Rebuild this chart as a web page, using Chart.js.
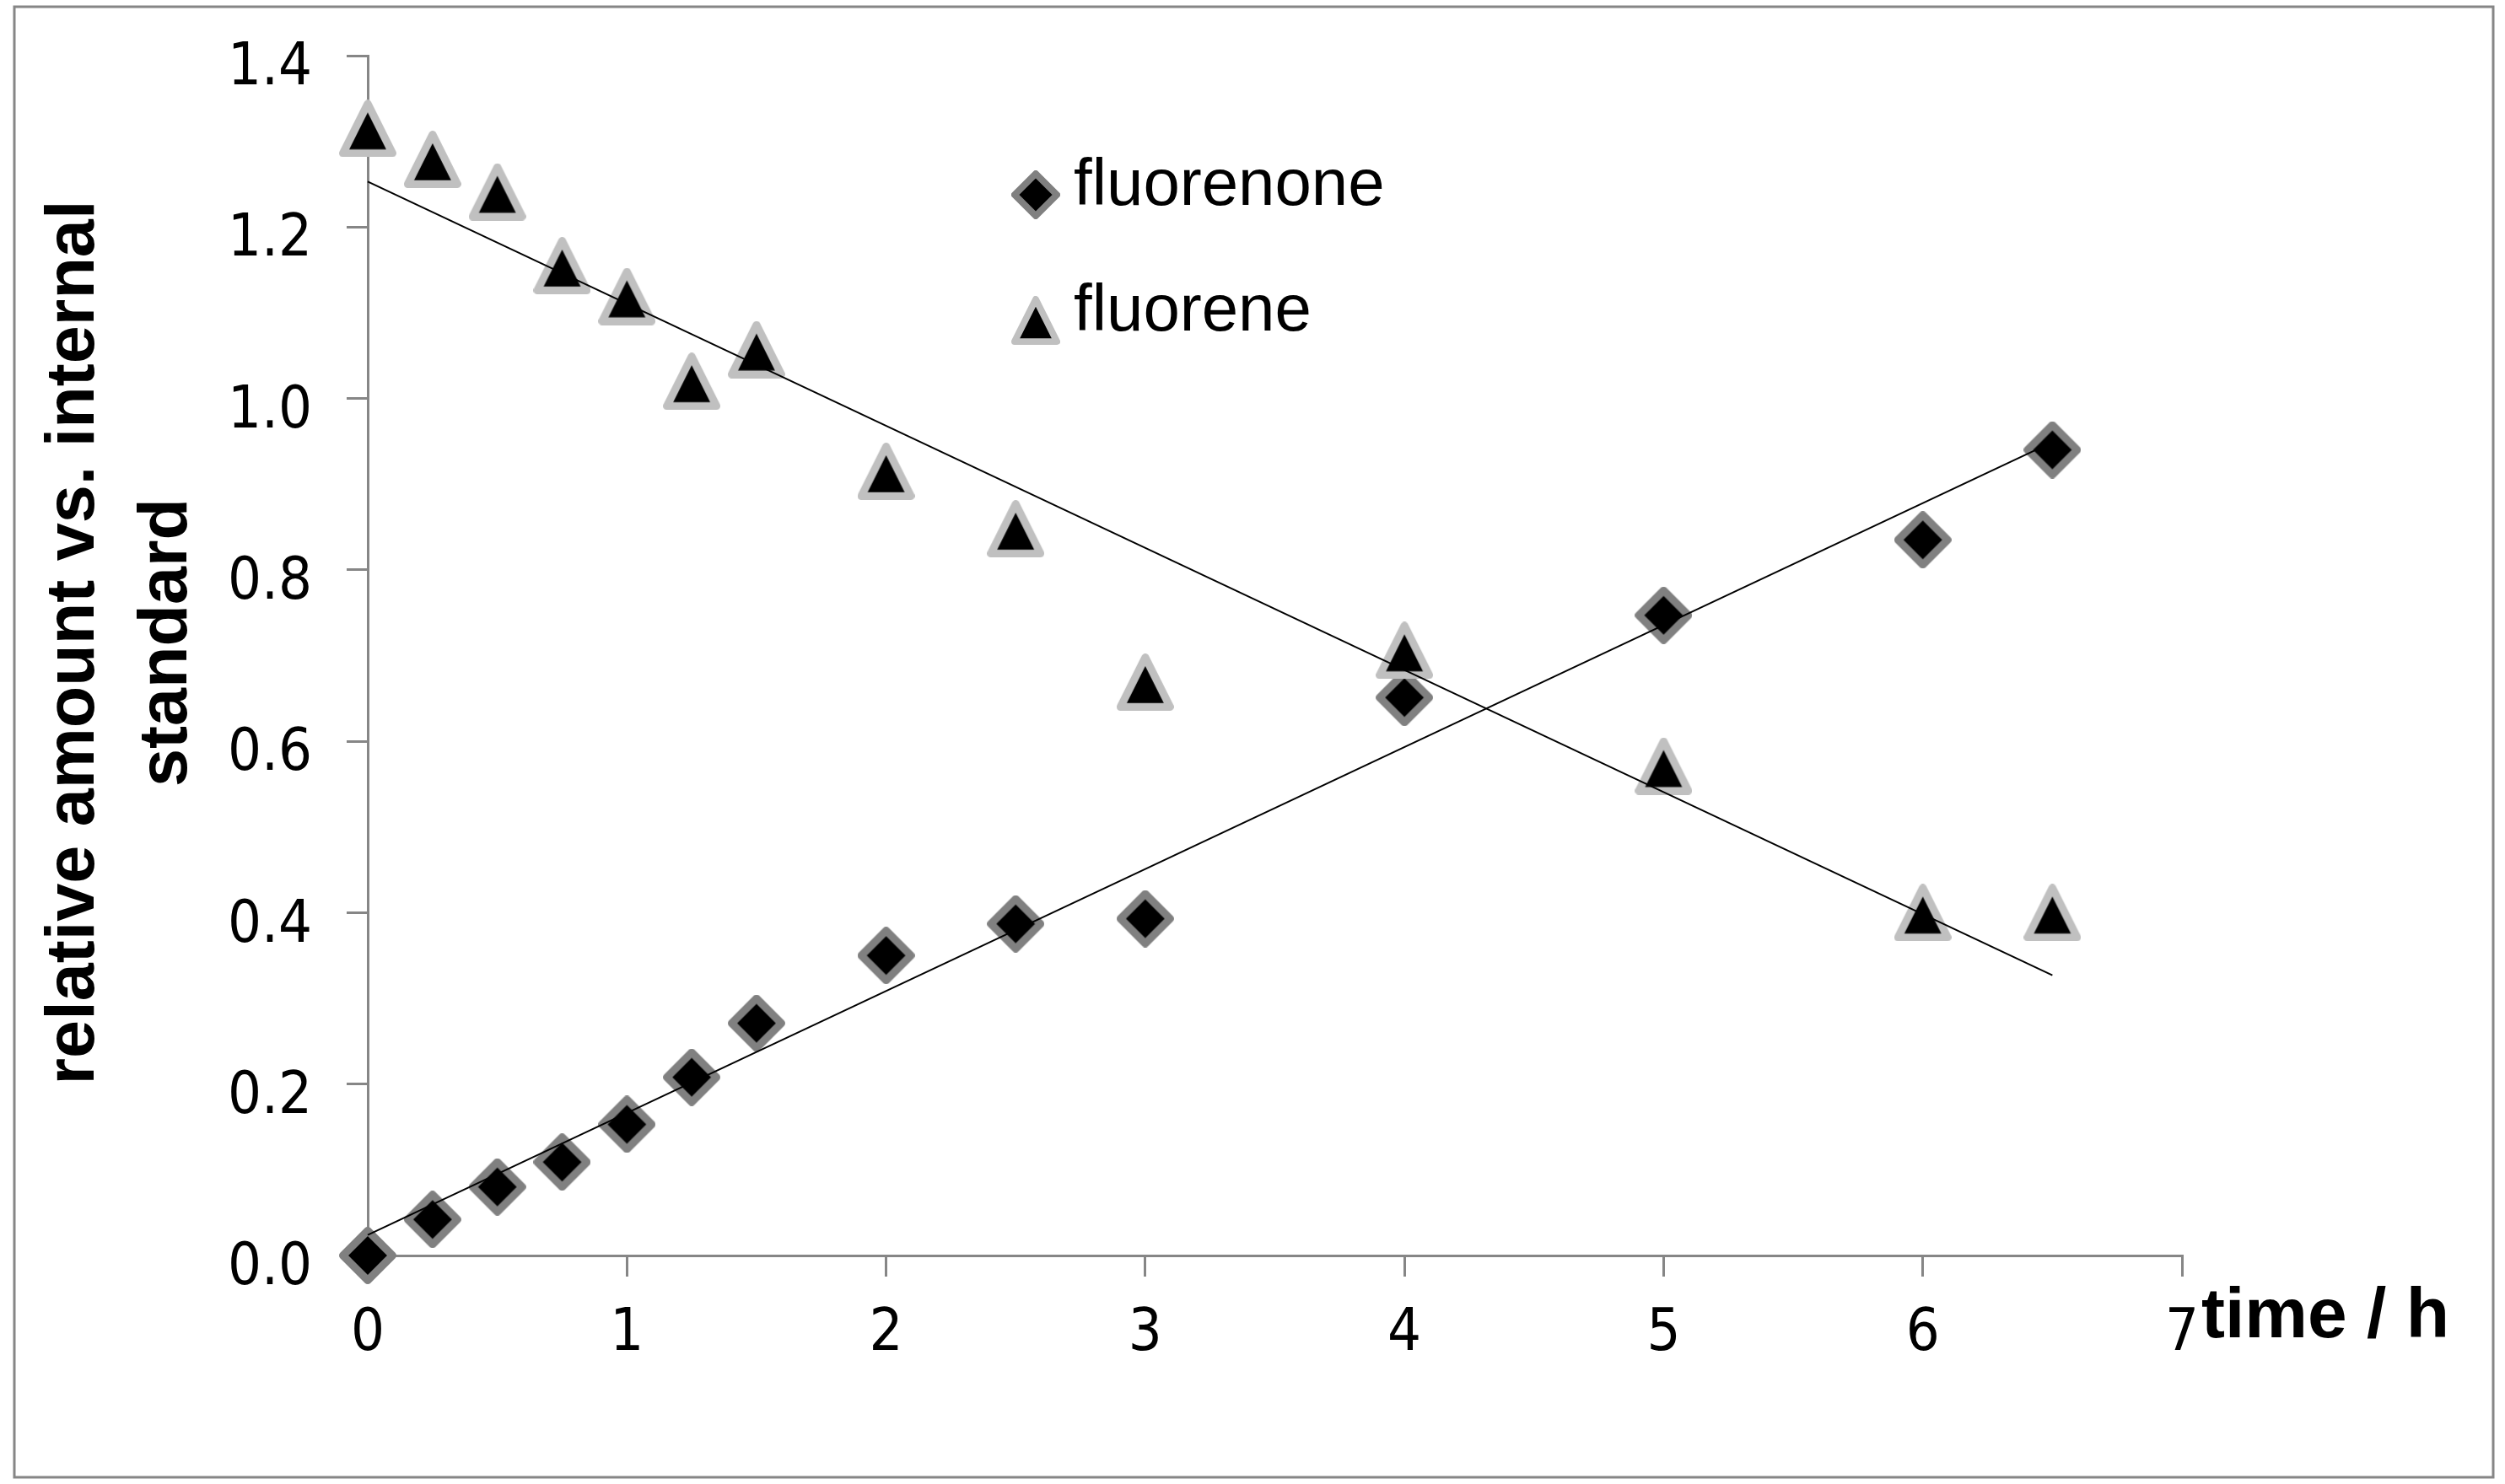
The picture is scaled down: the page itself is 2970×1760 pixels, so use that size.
<!DOCTYPE html>
<html>
<head>
<meta charset="utf-8">
<title>fluorenone / fluorene vs. time</title>
<script src="https://cdn.jsdelivr.net/npm/chart.js@4.4.0/dist/chart.umd.min.js"></script>
<style>
  html, body { margin: 0; padding: 0; background: #ffffff; }
  canvas { display: block; }
</style>
</head>
<body>
<canvas id="kineticsChart" width="2970" height="1760"></canvas>
<script>
// Sampling times (h)
const timePoints = [0, 0.25, 0.5, 0.75, 1, 1.25, 1.5, 2, 2.5, 3, 4, 5, 6, 6.5];

// Relative amount vs. internal standard
const fluorenoneValues = [0.000, 0.042, 0.080, 0.109, 0.153, 0.208, 0.271, 0.350, 0.387, 0.393, 0.651, 0.747, 0.835, 0.940];
const fluoreneValues = [1.315, 1.279, 1.241, 1.155, 1.119, 1.020, 1.057, 0.915, 0.848, 0.669, 0.706, 0.571, 0.400, 0.400];

// Linear trend lines (end points as drawn)
const trendTimes = [0, 6.5];
const fluorenoneTrend = [0.024, 0.949];
const fluoreneTrend = [1.253, 0.327];

// Axis ticks
const xTickValues = [0, 1, 2, 3, 4, 5, 6, 7];
const yTickValues = [0, 0.2, 0.4, 0.6, 0.8, 1.0, 1.2, 1.4];
const yTickLabels = ['0.0', '0.2', '0.4', '0.6', '0.8', '1.0', '1.2', '1.4'];

const seriesNames = ['fluorenone', 'fluorene'];
const yTitleLines = ['relative amount vs. internal', 'standard'];
const xTitleText = 'time / h';

const AXIS_GREY = '#868686';
const TICK_FONT = '"DejaVu Sans Condensed", "DejaVu Sans", sans-serif';

// Excel style markers: black fill, grey outline
function makeMarker(shape, size, stroke) {
    const c = document.createElement('canvas');
    c.width = size;
    c.height = size;
    const ctx = c.getContext('2d');
    const w = size * 0.135;
    const h = w / 2;
    ctx.beginPath();
    if (shape === 'diamond') {
        ctx.moveTo(size / 2, h);
        ctx.lineTo(size - h, size / 2);
        ctx.lineTo(size / 2, size - h);
        ctx.lineTo(h, size / 2);
    } else {
        ctx.moveTo(size / 2, h);
        ctx.lineTo(size - h, size - h);
        ctx.lineTo(h, size - h);
    }
    ctx.closePath();
    ctx.fillStyle = '#000000';
    ctx.fill();
    ctx.lineWidth = w;
    ctx.lineJoin = 'round';
    ctx.strokeStyle = stroke;
    ctx.stroke();
    return c;
}

const diamondMarker = makeMarker('diamond', 68, '#808080');
const triangleMarker = makeMarker('triangle', 68, '#c0c0c0');
const diamondLegend = makeMarker('diamond', 58, '#808080');
const triangleLegend = makeMarker('triangle', 58, '#c0c0c0');

function toPoints(xs, ys) {
    return xs.map((x, i) => ({ x: x, y: ys[i] }));
}

// grey frame round the whole picture
const framePlugin = {
    id: 'pageFrame',
    afterDraw(chart) {
        const ctx = chart.ctx;
        ctx.save();
        ctx.strokeStyle = AXIS_GREY;
        ctx.lineWidth = 3;
        ctx.strokeRect(17, 8, 2939, 1744);
        ctx.restore();
    }
};

// legend sitting inside the plot, as in the original
const insideLegend = {
    id: 'insideLegend',
    afterDraw(chart) {
        const ctx = chart.ctx;
        const rows = [
            { img: diamondLegend, text: seriesNames[0], my: 231, by: 243 },
            { img: triangleLegend, text: seriesNames[1], my: 380, by: 392 }
        ];
        ctx.save();
        ctx.font = '78px "Liberation Sans", Arial, sans-serif';
        ctx.fillStyle = '#000000';
        ctx.textAlign = 'left';
        ctx.textBaseline = 'alphabetic';
        rows.forEach(r => {
            ctx.drawImage(r.img, 1228 - r.img.width / 2, r.my - r.img.height / 2);
            ctx.fillText(r.text, 1273, r.by);
        });
        ctx.restore();
    }
};

// axis titles: y title rotated in two lines, x title at the right end of the axis
const axisTitles = {
    id: 'axisTitles',
    afterDraw(chart) {
        const ctx = chart.ctx;
        ctx.save();
        ctx.fillStyle = '#000000';

        ctx.font = 'bold 84px "Liberation Sans", Arial, sans-serif';
        ctx.textAlign = 'left';
        ctx.textBaseline = 'alphabetic';
        ctx.fillText(xTitleText, 2610, 1586);

        ctx.font = 'bold 81px "Liberation Sans", Arial, sans-serif';
        ctx.textAlign = 'center';
        ctx.textBaseline = 'middle';
        ctx.translate(89, 762);
        ctx.rotate(-Math.PI / 2);
        yTitleLines.forEach((line, i) => {
            ctx.fillText(line, 0, i * 110);
        });
        ctx.restore();
    }
};

const chart = new Chart(document.getElementById('kineticsChart'), {
    type: 'scatter',
    data: {
        datasets: [{
            type: 'line',
            label: 'trend fluorenone',
            data: toPoints(trendTimes, fluorenoneTrend),
            borderColor: '#000000',
            borderWidth: 2,
            pointRadius: 0,
            fill: false,
            clip: false,
            order: 0
        }, {
            type: 'line',
            label: 'trend fluorene',
            data: toPoints(trendTimes, fluoreneTrend),
            borderColor: '#000000',
            borderWidth: 2,
            pointRadius: 0,
            fill: false,
            clip: false,
            order: 0
        }, {
            label: seriesNames[1],
            data: toPoints(timePoints, fluoreneValues),
            pointStyle: triangleMarker,
            pointRadius: 34,
            clip: false,
            order: 1
        }, {
            label: seriesNames[0],
            data: toPoints(timePoints, fluorenoneValues),
            pointStyle: diamondMarker,
            pointRadius: 34,
            clip: false,
            order: 2
        }]
    },
    options: {
        responsive: false,
        animation: false,
        devicePixelRatio: 1,
        events: [],
        layout: {
            padding: { top: 66, right: 383, bottom: 0, left: 0 }
        },
        plugins: {
            legend: { display: false },
            tooltip: { enabled: false }
        },
        scales: {
            x: {
                type: 'linear',
                min: 0,
                max: 7,
                afterBuildTicks: scale => {
                    scale.ticks = xTickValues.map(v => ({ value: v }));
                },
                afterFit: scale => {
                    scale.height = 271;
                    scale.paddingLeft = 0;
                    scale.paddingRight = 0;
                },
                border: { display: true, color: AXIS_GREY, width: 3 },
                grid: {
                    drawOnChartArea: false,
                    drawTicks: true,
                    tickLength: 25,
                    color: AXIS_GREY,
                    lineWidth: 3
                },
                ticks: {
                    color: '#000000',
                    padding: 27,
                    maxRotation: 0,
                    font: { family: TICK_FONT, size: 70 },
                    callback: v => String(v)
                }
            },
            y: {
                type: 'linear',
                min: 0,
                max: 1.4,
                afterBuildTicks: scale => {
                    scale.ticks = yTickValues.map(v => ({ value: v }));
                },
                afterFit: scale => {
                    scale.width = 436;
                    scale.paddingTop = 0;
                    scale.paddingBottom = 0;
                },
                border: { display: true, color: AXIS_GREY, width: 3 },
                grid: {
                    drawOnChartArea: false,
                    drawTicks: true,
                    tickLength: 25,
                    color: AXIS_GREY,
                    lineWidth: 3
                },
                ticks: {
                    color: '#000000',
                    padding: 41,
                    labelOffset: 16,
                    font: { family: TICK_FONT, size: 70 },
                    callback: (v, i) => yTickLabels[i]
                }
            }
        }
    },
    plugins: [framePlugin, insideLegend, axisTitles]
});
</script>
</body>
</html>
